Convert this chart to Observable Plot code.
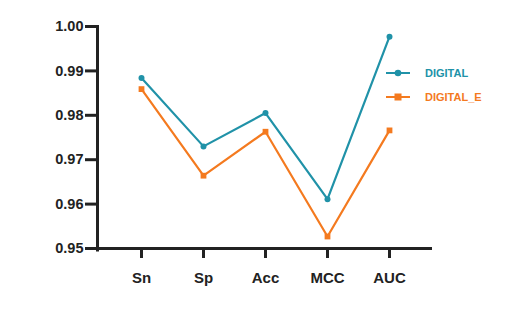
<!DOCTYPE html>
<html>
<head>
<meta charset="utf-8">
<script src="https://cdn.jsdelivr.net/npm/d3@7"></script>
<script src="https://cdn.jsdelivr.net/npm/@observablehq/plot@0.6"></script>
<style>
  html, body { margin: 0; padding: 0; background: #fff; }
  #wrap { position: relative; width: 520px; height: 320px; font-family: "Liberation Sans", Arial, sans-serif; }
  #legend { position: absolute; left: 386px; top: 61px; font-weight: bold; font-size: 11px; }
  .item { display: flex; align-items: center; height: 24px; }
  .item svg { margin-right: 15px; }
</style>
</head>
<body>
<div id="wrap"><div id="legend"></div></div>
<script>
const metrics = ["Sn", "Sp", "Acc", "MCC", "AUC"];
const seriesNames = ["DIGITAL", "DIGITAL_E"];
const digital = [0.9884, 0.9730, 0.9805, 0.9611, 0.9977];
const digitalE = [0.9859, 0.9664, 0.9763, 0.9527, 0.9766];
const yTicks = [0.95, 0.96, 0.97, 0.98, 0.99, 1.00];
const colors = ["#2092a8", "#f47a1f"];
const symbols = ["circle", "square"];

const rows = [];
[digital, digitalE].forEach((vals, s) => {
  metrics.forEach((m, i) => rows.push({metric: m, value: vals[i], series: seriesNames[s]}));
});

const ink = "#222";
const chart = Plot.plot({
  width: 520,
  height: 320,
  marginLeft: 97,
  marginRight: 88,
  marginTop: 26,
  marginBottom: 72,
  style: {fontFamily: "'Liberation Sans', Arial, sans-serif", fontWeight: "bold", fontSize: "14px", color: ink, background: "#fff"},
  x: {type: "point", domain: metrics, padding: 0.68, label: null},
  y: {domain: [0.95, 1.0], label: null},
  color: {domain: seriesNames, range: colors},
  symbol: {domain: seriesNames, range: symbols},
  marks: [
    Plot.axisY({ticks: yTicks, tickFormat: d3.format(".2f"), tickSize: 12, tickPadding: 2, strokeWidth: 3, stroke: ink, fill: ink, fontSize: 14.5}),
    Plot.axisX({tickSize: 10, tickPadding: 14, strokeWidth: 3, stroke: ink, fill: ink, fontSize: 15}),
    Plot.lineY(rows, {x: "metric", y: "value", z: "series", stroke: "series", strokeWidth: 2.2}),
    Plot.dot(rows, {x: "metric", y: "value", fill: "series", symbol: "series", r: d => d.series === "DIGITAL" ? 3.3 : 3.9, stroke: "none"}),
    Plot.ruleY([0.95], {stroke: ink, strokeWidth: 3, insetLeft: -1.5}),
    Plot.frame({anchor: "left", stroke: ink, strokeWidth: 3, insetBottom: -1.5})
  ]
});
document.getElementById("wrap").prepend(chart);

const legend = document.getElementById("legend");
seriesNames.forEach((name, i) => {
  const marker = symbols[i] === "circle"
    ? `<circle cx="12" cy="5" r="3.3" fill="${colors[i]}"/>`
    : `<rect x="8.5" y="1.5" width="7" height="7" fill="${colors[i]}"/>`;
  const div = document.createElement("div");
  div.className = "item";
  div.style.color = colors[i];
  div.innerHTML = `<svg width="24" height="10"><line x1="0" x2="24" y1="5" y2="5" stroke="${colors[i]}" stroke-width="2"/>${marker}</svg><span>${name}</span>`;
  legend.appendChild(div);
});
</script>
</body>
</html>
